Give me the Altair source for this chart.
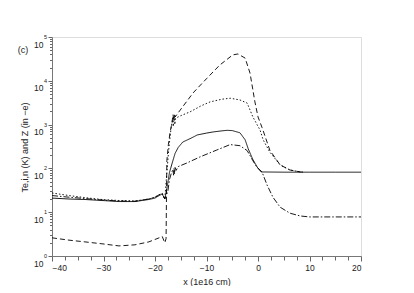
import altair as alt
import pandas as pd

# ---- data ----
solid_x = [-40, -36.7, -33.6, -30.3, -27, -23.9, -21.2, -20, -19.2, -18.6, -18.1, -17.6, -17.2, -16.6,
           -16.1, -15.5, -14.6, -13, -11.8, -10, -8.7, -7, -6, -5, -3.5, -2.5, -1.9, -1.0, 0, 0.6,
           5, 10, 15, 20]
solid_y = [21, 20, 19.5, 18.5, 17.5, 17.5, 19.5, 21, 24, 26, 20, 40, 80, 140,
           220, 300, 400, 490, 580, 640, 680, 720, 740, 730, 650, 450, 280, 160, 100, 83,
           82, 82, 82, 82]

dot_x = [-40, -36.7, -33.6, -30.3, -27, -23.9, -21.2, -20, -19.2, -18.6, -18.1, -17.7, -17.3,
         -16.9, -16.6, -16.45, -16.3, -16.15, -16.0, -15.0, -13.2, -11, -9.3, -7, -5.4, -3.5,
         -2.1, -1.0, 0.4, 1.0, 2.3, 4.3, 6.2, 8.2, 9]
dot_y = [27.5, 24, 21.5, 19.5, 18.5, 18, 20, 22, 25, 27, 20, 80, 300,
         800, 1300, 900, 1500, 1000, 1400, 1600, 1950, 2700, 3300, 3800, 4000, 3650,
         3100, 1500, 750, 450, 235, 120, 92, 83, 82]

dash_x = [-40, -36.7, -33.6, -30.3, -27, -23.9, -21.2, -19.2, -18.6, -18.1, -17.85, -17.7, -17.4,
          -17.1, -16.7, -16.5, -16.35, -16.2, -16.1, -15.1, -12.6, -9.9, -7.4, -4.9, -3.9, -2.5,
          -1.55, -0.6, 0, 0.8, 2.3, 4.3, 6.2, 8.2, 9]
dash_y = [2.6, 2.3, 2.1, 1.9, 1.7, 1.8, 2.1, 2.6, 2.8, 2.0, 2.5, 150, 350,
          640, 1100, 1700, 1200, 1800, 1490, 2150, 5300, 11500, 23000, 39000, 41000, 33000,
          15000, 3300, 1500, 850, 260, 120, 92, 83, 82]

dd_x = [-40, -36.7, -33.6, -30.3, -27, -23.9, -21.2, -20, -19.2, -18.6, -18.1, -17.5, -17.2,
        -16.8, -16.5, -16.4, -16.3, -16.2, -16.1, -15.9, -15.5, -13.8, -11.3, -8.0, -5.4, -3.5,
        -2.1, -1.0, -0.3, 0.78, 1.75, 2.9, 4.3, 6.2, 8.2, 10, 15, 20]
dd_y = [24, 22, 20.5, 19, 18, 17.8, 20, 22, 25, 26.5, 20, 30, 55,
        80, 95, 70, 100, 75, 105, 90, 110, 133, 182, 263, 350, 330,
        255, 150, 110, 83, 42, 22, 13, 9.5, 8.2, 7.8, 7.8, 7.8]

decades = [1, 10, 100, 1000, 10000, 100000]
exponents = ["0", "1", "2", "3", "4", "5"]
x_ticks = [-40 + 2.5 * i for i in range(25)]
y_ticks = [m * 10 ** k for k in range(5) for m in range(1, 10)] + [100000]
panel_label = ["(c)"]

series = [("solid", solid_x, solid_y), ("dot", dot_x, dot_y),
          ("dash", dash_x, dash_y), ("dashdot", dd_x, dd_y)]
rows = []
for name, xs, ys in series:
    for i, (a, b) in enumerate(zip(xs, ys)):
        rows.append({"s": name, "i": i, "x": a, "v": b})
df = pd.DataFrame(rows)

exp_df = pd.DataFrame({"v": decades, "e": exponents})
lab_df = pd.DataFrame({"t": panel_label})

font = "Liberation Sans"
dec_test = "indexof([1,10,100,1000,10000,100000], datum.value) >= 0"

y_axis = alt.Axis(title="Te,i,n (K) and Z (in −e)", values=y_ticks, grid=False,
                  labelExpr=dec_test + " ? '10' : ''",
                  labelOverlap=False, labelFontSize=8.5, labelFont=font,
                  labelColor="#222", labelBaseline="top", labelOffset=3,
                  labelPadding=5, labelAlign="right",
                  tickSize={"condition": {"test": dec_test, "value": 4}, "value": 2.5},
                  tickColor="#666", domainColor="#777",
                  titleFont=font, titleFontSize=9, titleFontWeight="normal",
                  titleColor="#222", titleX=-23, titleY=110, titleAngle=-90,
                  titleBaseline="bottom", titleAlign="center")
y_scale = alt.Scale(type="log", domain=[1, 100000], nice=False)

lines = alt.Chart(df).mark_line(color="#000", strokeWidth=0.9).encode(
    x=alt.X("x:Q", scale=alt.Scale(domain=[-40, 20], nice=False, zero=False),
            axis=alt.Axis(title="x (1e16 cm)", values=x_ticks, grid=False,
                          labelExpr="datum.value % 10 == 0 ? datum.label : ''",
                          labelOverlap=False, labelFontSize=8.5, labelFont=font,
                          labelColor="#222", labelBaseline="top", labelPadding=2,
                          tickSize={"condition": {"test": "datum.value % 10 == 0", "value": 5}, "value": 4},
                          tickColor="#666", domainColor="#777",
                          titleFont=font, titleFontSize=9, titleFontWeight="normal",
                          titleColor="#222", titleY=28, titleBaseline="alphabetic")),
    y=alt.Y("v:Q", scale=y_scale, axis=y_axis),
    strokeDash=alt.StrokeDash("s:N", legend=None,
                              scale=alt.Scale(domain=["solid", "dot", "dash", "dashdot"],
                                              range=[[1, 0], [1.5, 2], [5, 3], [6, 2, 1.5, 2]])),
    detail="s:N",
    order="i:Q",
)

exps = alt.Chart(exp_df).mark_text(align="right", baseline="middle", fontSize=5.5,
                                   font=font, color="#222").encode(
    x=alt.value(-5),
    y=alt.Y("v:Q", scale=y_scale, axis=y_axis),
    text="e:N",
)

label = alt.Chart(lab_df).mark_text(align="center", baseline="middle", fontSize=9,
                                    font=font, color="#222").encode(
    x=alt.value(-29),
    y=alt.value(13),
    text="t:N",
)

chart = alt.layer(lines, exps, label).properties(
    width=309, height=219,
    autosize=alt.AutoSizeParams(type="none"),
    padding={"left": 44, "top": 29, "right": 20, "bottom": 30},
).configure_view(stroke="#888", strokeWidth=1).configure(background="white")

chart.save("out.html", embed_options={"renderer": "svg", "actions": False})
